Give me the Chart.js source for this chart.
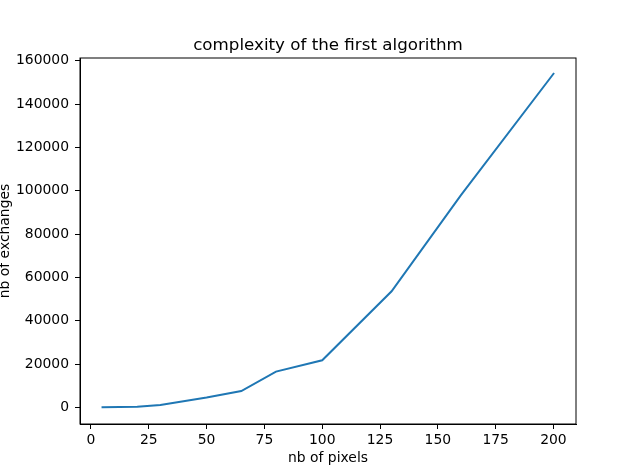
<!DOCTYPE html>
<html>
<head>
<meta charset="utf-8">
<script src="https://cdn.jsdelivr.net/npm/chart.js@4.4.0/dist/chart.umd.min.js"></script>
<style>
    html, body { margin: 0; padding: 0; background: #fff; }
    #wrap { width: 640px; height: 476px; position: relative; }
</style>
</head>
<body>
<div id="wrap"><canvas id="mainChart"></canvas></div>
<script>
// Datos
const pixels = [5, 20, 30, 50, 65, 80, 100, 130, 160, 200];
const exchanges = [0, 300, 1100, 4500, 7500, 16500, 21700, 53600, 98000, 154000];
const xTicks = [0, 25, 50, 75, 100, 125, 150, 175, 200];
const yTicks = [0, 20000, 40000, 60000, 80000, 100000, 120000, 140000, 160000];
const chartTitle = 'complexity of the first algorithm';

const FONT = 'DejaVu Sans';

// Marco completo + título centrado sobre el área (estilo matplotlib)
const boxPlugin = {
    id: 'box',
    afterDraw(chart) {
        const { ctx, chartArea: a } = chart;
        ctx.save();
        ctx.strokeStyle = '#000';
        ctx.lineWidth = 1;
        ctx.strokeRect(a.left, a.top, a.right - a.left, a.bottom - a.top);

        ctx.fillStyle = '#000';
        ctx.font = `16.7px "${FONT}"`;
        ctx.textAlign = 'center';
        ctx.textBaseline = 'alphabetic';
        ctx.fillText(chartTitle, (a.left + a.right) / 2, a.top - 8.5);
        ctx.restore();
    }
};

document.addEventListener('DOMContentLoaded', () => {
    const ctx = document.getElementById('mainChart').getContext('2d');

    new Chart(ctx, {
        type: 'line',
        data: {
            datasets: [{
                data: pixels.map((p, i) => ({ x: p, y: exchanges[i] })),
                borderColor: '#1f77b4',
                borderWidth: 2,
                borderCapStyle: 'square',
                pointRadius: 0,
                fill: false,
                tension: 0
            }]
        },
        plugins: [boxPlugin],
        options: {
            responsive: true,
            maintainAspectRatio: false,
            animation: false,
            layout: { padding: { top: 58, right: 64, left: 0, bottom: 0 } },
            plugins: {
                legend: { display: false },
                tooltip: { enabled: false },
                title: { display: false }
            },
            scales: {
                x: {
                    type: 'linear',
                    min: -4.75,
                    max: 209.75,
                    afterBuildTicks: axis => { axis.ticks = xTicks.map(v => ({ value: v })); },
                    afterFit: axis => { axis.height = 52; },
                    grid: { drawOnChartArea: false, drawTicks: true, tickLength: 5, color: '#000' },
                    border: { display: true, color: '#000' },
                    ticks: { color: '#000', padding: 3, maxRotation: 0, font: { family: FONT, size: 13.9 } },
                    title: {
                        display: true,
                        text: 'nb of pixels',
                        color: '#000',
                        font: { family: FONT, size: 13.9, lineHeight: 1.2 },
                        padding: { top: 0, bottom: 9 }
                    }
                },
                y: {
                    type: 'linear',
                    min: -7700,
                    max: 161300,
                    afterBuildTicks: axis => { axis.ticks = yTicks.map(v => ({ value: v })); },
                    afterFit: axis => { axis.width = 80; },
                    grid: { drawOnChartArea: false, drawTicks: true, tickLength: 5, color: '#000' },
                    border: { display: true, color: '#000' },
                    ticks: { color: '#000', padding: 6, font: { family: FONT, size: 13.9 }, callback: v => String(v) },
                    title: {
                        display: true,
                        text: 'nb of exchanges',
                        color: '#000',
                        font: { family: FONT, size: 13.9, lineHeight: 0.8 },
                        padding: { top: 0, bottom: 0 }
                    }
                }
            }
        }
    });
});
</script>
</body>
</html>
